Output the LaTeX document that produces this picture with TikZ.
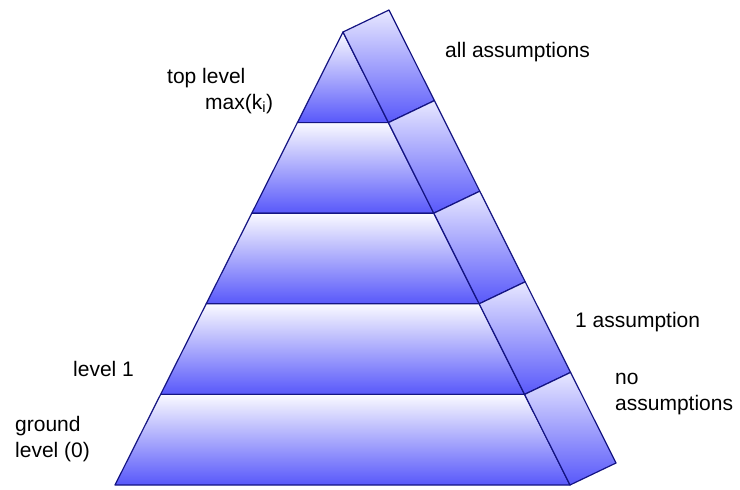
\documentclass[tikz,border=0pt]{standalone}
\usepackage{fontspec}
\setmainfont{Liberation Sans}
\usetikzlibrary{calc}
\definecolor{edgec}{RGB}{20,20,130}
\definecolor{lightc}{RGB}{250,250,255}
\definecolor{deepc}{RGB}{88,88,250}
\definecolor{sidelight}{RGB}{232,232,255}
\begin{document}
\begin{tikzpicture}[x=1pt,y=-1pt,
  band/.style={draw=edgec, line width=1.2pt, line join=round, top color=lightc, bottom color=deepc},
  sideband/.style={draw=edgec, line width=1.2pt, line join=round, top color=sidelight, bottom color=deepc},
  lbl/.style={anchor=base west, inner sep=0pt, align=left, font=\fontsize{21}{26}\selectfont}]
\useasboundingbox (0,0) rectangle (740,490);
\coordinate (A) at (343,32);
\coordinate (BL) at (115,485);
\coordinate (BR) at (570,485);
\foreach \k in {0,...,5} {
  \coordinate (L\k) at ($(A)!\k/5!(BL)$);
  \coordinate (R\k) at ($(A)!\k/5!(BR)$);
  \coordinate (S\k) at ($(R\k)+(46,-22)$);
}
\foreach \k [evaluate=\k as \j using int(\k-1)] in {1,...,5} {
  \path[band] (L\j) -- (R\j) -- (R\k) -- (L\k) -- cycle;
  \path[sideband] (R\j) -- (S\j) -- (S\k) -- (R\k) -- cycle;
}
\node[lbl] (t1) at (167,83) {top level};
\node[lbl] (t2) at (205,109) {max(k\textsubscript{i})};
\node[lbl] (t3) at (445,57) {all assumptions};
\node[lbl] (t4) at (575,327) {1 assumption};
\node[lbl] (t5) at (615,410) {no\\assumptions};
\node[lbl] (t6) at (73,376) {level 1};
\node[lbl] (t7) at (15,457) {ground\\level (0)};
\end{tikzpicture}
\end{document}
